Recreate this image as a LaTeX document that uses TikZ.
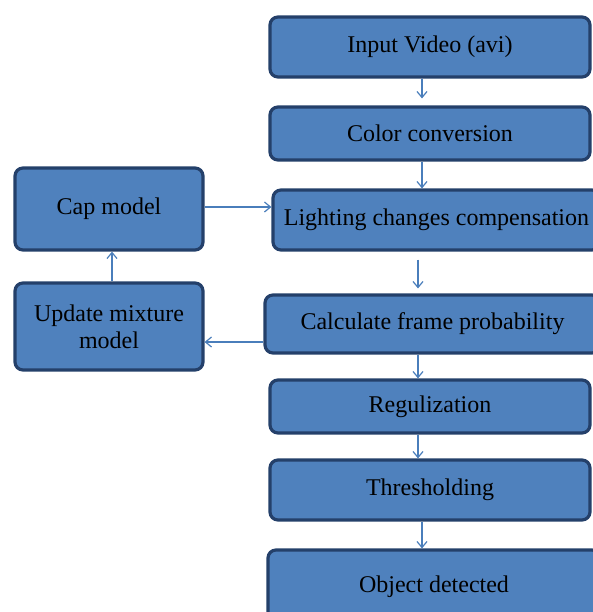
\documentclass[tikz,border=0pt]{standalone}
\usepackage{fontspec}
\setmainfont{Liberation Serif}
\usetikzlibrary{arrows.meta}
\definecolor{boxfill}{HTML}{4F81BD}
\definecolor{boxline}{HTML}{24406A}
\definecolor{arrowline}{HTML}{4A7EBB}
\begin{document}
\begin{tikzpicture}[x=0.5pt,y=-0.5pt,
    stage/.style={draw=boxline,fill=boxfill,line width=1.6pt,rounded corners=4pt,
      inner sep=0pt,align=center,font=\fontsize{12}{13.5}\selectfont},
    flow/.style={draw=arrowline,line width=0.6pt,-{Straight Barb[length=3pt,width=5pt]}}]
\useasboundingbox (0,0) rectangle (593,612);
\clip (0,0) rectangle (593,612);
% main column
\node[stage,minimum width=160pt,minimum height=30pt] (input) at (430,47) {Input Video (avi)};
\node[stage,minimum width=160pt,minimum height=26.5pt] (color) at (430,133.5) {Color conversion};
\node[stage,minimum width=163.5pt,minimum height=30pt] (light) at (436.5,220) {Lighting changes compensation};
\node[stage,minimum width=167.5pt,minimum height=29pt] (calc) at (432.5,324) {Calculate frame probability};
\node[stage,minimum width=160pt,minimum height=26.5pt] (reg) at (430,406.5) {Regulization};
\node[stage,minimum width=160pt,minimum height=30pt] (thresh) at (430,490) {Thresholding};
\node[stage,minimum width=166pt,minimum height=37pt] (object) at (434,587) {Object detected};
% side loop
\node[stage,minimum width=94pt,minimum height=41pt] (cap) at (109,209) {Cap model};
\node[stage,minimum width=94pt,minimum height=43.5pt] (update) at (109,326.5) {Update mixture\\model};
% arrow lanes
\coordinate (laneA) at (422,0);
\coordinate (laneB) at (418,0);
\coordinate (rowA) at (0,207);
\coordinate (rowB) at (0,342);
\coordinate (laneC) at (112,0);
\draw[flow] (input.south -| laneA) -- ([yshift=3.5pt]color.north -| laneA);
\draw[flow] (color.south -| laneA) -- (light.north -| laneA);
\draw[flow] ([yshift=-4pt]light.south -| laneB) -- ([yshift=2.5pt]calc.north -| laneB);
\draw[flow] (calc.south -| laneB) -- (reg.north -| laneB);
\draw[flow] (reg.south -| laneB) -- (thresh.north -| laneB);
\draw[flow] (thresh.south -| laneA) -- (object.north -| laneA);
\draw[flow] (cap.east |- rowA) -- (light.west |- rowA);
\draw[flow] (calc.west |- rowB) -- (update.east |- rowB);
\draw[flow] (update.north -| laneC) -- (cap.south -| laneC);
\end{tikzpicture}
\end{document}
